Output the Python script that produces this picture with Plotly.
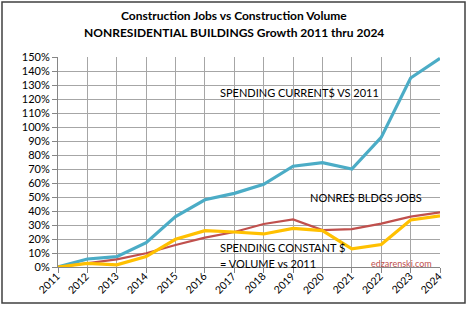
import plotly.graph_objects as go

years = list(range(2011, 2025))
year_labels = [str(y) for y in years]
spending_current = [0, 5.7, 7.4, 17.4, 36, 48, 52.6, 59, 72, 74.5, 70, 92.6, 135, 149]
nonres_jobs = [0, 3, 5.5, 9.8, 15.7, 21, 25, 30.7, 34, 26.4, 27, 31, 36, 39]
spending_constant = [0, 2.6, 1.5, 7.4, 19.8, 26, 25, 23.6, 27.6, 26, 12.9, 16, 33.6, 36.6]
y_ticks = list(range(0, 151, 10))

FONT = "Lato"
W0, W1, H0, H1 = 58, 440, 57, 267   # plot area px
PW, PH = W1 - W0, H1 - H0

def px(xp):
    return (xp - W0) / PW

def py(yp):
    return (H1 - yp) / PH

fig = go.Figure()
fig.add_trace(go.Scatter(x=years, y=spending_current, mode="lines",
                         line=dict(color="#4BACC6", width=3.2), showlegend=False))
fig.add_trace(go.Scatter(x=years, y=nonres_jobs, mode="lines",
                         line=dict(color="#C0504D", width=2.2), showlegend=False))
fig.add_trace(go.Scatter(x=years, y=spending_constant, mode="lines",
                         line=dict(color="#FFC000", width=3.2), showlegend=False))

fig.update_layout(
    width=468, height=311,
    margin=dict(l=W0, r=468 - W1, t=H0, b=311 - H1, autoexpand=False),
    paper_bgcolor="white", plot_bgcolor="white",
    font=dict(family=FONT, size=11, color="#000"),
    xaxis=dict(range=[2011, 2024], tickmode="array", tickvals=years,
               showticklabels=False, automargin=False,
               showgrid=True, gridcolor="#A6A6A6", gridwidth=1,
               showline=True, linecolor="#868686", ticks="outside",
               ticklen=5, tickcolor="#868686", zeroline=False),
    yaxis=dict(range=[0, 150], tickmode="array", tickvals=y_ticks,
               ticktext=[f"{v}%" for v in y_ticks], automargin=False,
               showgrid=True, gridcolor="#A6A6A6", gridwidth=1,
               showline=True, linecolor="#868686", ticks="outside",
               ticklen=5, tickcolor="#868686", zeroline=False,
               tickfont=dict(size=11)),
)

# rotated year labels
for yv, lab in zip(years, year_labels):
    fig.add_annotation(x=yv, xref="x", yref="paper", y=py(283), text=lab,
                       textangle=-45, xshift=-9, xanchor="center", yanchor="middle",
                       showarrow=False, font=dict(family=FONT, size=10.5, color="#000"))

titles = [("<b>Construction Jobs vs Construction Volume</b>", 15),
          ("<b>NONRESIDENTIAL BUILDINGS Growth 2011 thru 2024</b>", 33)]
for t, yp in titles:
    fig.add_annotation(xref="paper", yref="paper", x=px(234), y=py(yp), text=t,
                       xanchor="center", yanchor="middle", showarrow=False,
                       font=dict(family=FONT, size=12, color="#000"))

annots = [
    (218, 93, "SPENDING CURRENT$ VS 2011"),
    (308, 197, "NONRES BLDGS JOBS"),
    (218, 247, "SPENDING CONSTANT $"),
    (218, 263, "= VOLUME vs 2011"),
]
for xp, yp, t in annots:
    fig.add_annotation(xref="paper", yref="paper", x=px(xp), y=py(yp), text=t,
                       xanchor="left", yanchor="middle", showarrow=False,
                       font=dict(family=FONT, size=11, color="#000"))
fig.add_annotation(xref="paper", yref="paper", x=px(434), y=py(263),
                   text="edzarenski.com", xanchor="right", yanchor="middle",
                   showarrow=False, font=dict(family=FONT, size=9, color="#C0504D"))

fig.add_shape(type="rect", xref="paper", yref="paper",
              x0=px(2), x1=px(465), y0=py(303), y1=py(2),
              line=dict(color="#404040", width=1.5), layer="below")

fig.write_html("out.html")
